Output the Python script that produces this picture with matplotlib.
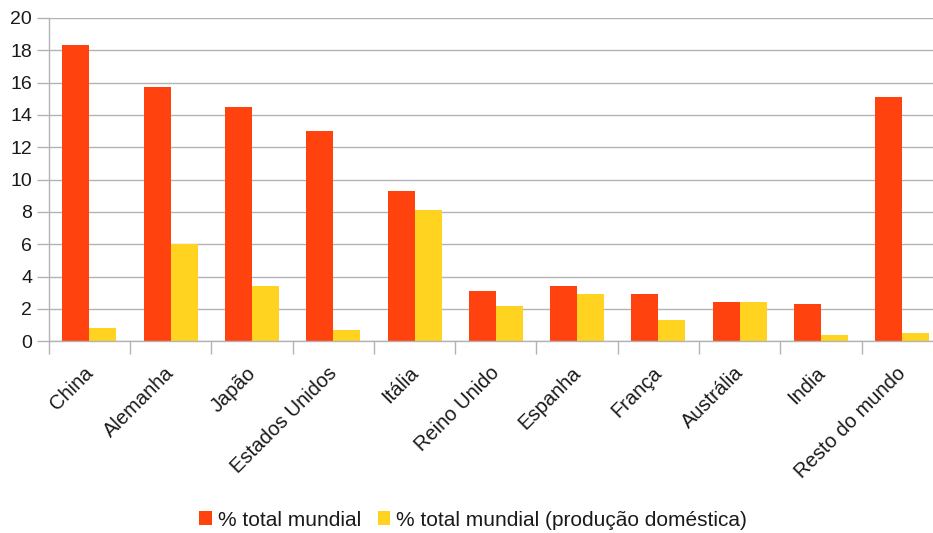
import numpy as np
import matplotlib.pyplot as plt
from matplotlib.transforms import ScaledTranslation

plt.rcParams['font.family'] = ['Liberation Sans', 'DejaVu Sans']

paises = ['China', 'Alemanha', 'Japão', 'Estados Unidos', 'Itália', 'Reino Unido',
          'Espanha', 'França', 'Austrália', 'India', 'Resto do mundo']
total_mundial = [18.3, 15.7, 14.5, 13.0, 9.3, 3.1, 3.4, 2.9, 2.4, 2.3, 15.1]
producao_domestica = [0.8, 6.0, 3.4, 0.7, 8.1, 2.2, 2.9, 1.3, 2.4, 0.4, 0.5]

cor_total = '#ff420e'
cor_domestica = '#ffd320'
cinza = '#b3b3b3'

fig = plt.figure(figsize=(9.33, 5.33), dpi=100)
# a área do gráfico passa ligeiramente da margem direita da figura
ax = fig.add_axes([0.0522, 0.3597, 0.9585, 0.6066])

x = np.arange(len(paises))
w = 0.332
ax.bar(x - w / 2, total_mundial, w, color=cor_total, label='% total mundial', zorder=2)
ax.bar(x + w / 2, producao_domestica, w, color=cor_domestica,
       label='% total mundial (produção doméstica)', zorder=2)

ax.set_xlim(-0.5, len(paises) - 0.5)
ax.set_ylim(0, 20)
ax.set_yticks(np.arange(0, 21, 2))
ax.yaxis.grid(True, color=cinza, linewidth=1, zorder=0)
ax.set_axisbelow(True)

# marcas nos limites entre categorias
ax.set_xticks(np.arange(-0.5, len(paises), 1))
ax.set_xticklabels([])
ax.tick_params(axis='x', length=9, color=cinza, width=1)
ax.tick_params(axis='y', length=9, color=cinza, width=1, labelsize=14,
               labelcolor='#1a1a1a', pad=3)

# nomes dos países inclinados, sob o centro de cada categoria
trans = ax.get_xaxis_transform() + ScaledTranslation(-6 / 100, -22 / 100, fig.dpi_scale_trans)
for xi, nome in zip(x, paises):
    ax.text(xi, 0, nome, transform=trans, rotation=45, ha='right', va='top',
            rotation_mode='anchor', fontsize=14.5, color='#1a1a1a')

for s in ['top', 'right']:
    ax.spines[s].set_visible(False)
for s in ['left', 'bottom']:
    ax.spines[s].set_color(cinza)
    ax.spines[s].set_linewidth(1)

fig.legend(loc='center', bbox_to_anchor=(0.507, 1 - 520 / 533), ncol=2,
           frameon=False, fontsize=15, handlelength=0.62, handleheight=0.62,
           handletextpad=0.28, columnspacing=0.8, labelcolor='#1a1a1a')

fig.savefig('out.png', dpi=100)
